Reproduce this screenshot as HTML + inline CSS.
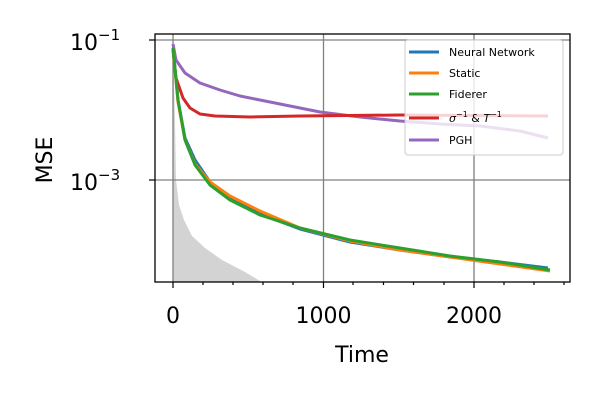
<!DOCTYPE html>
<html><head><style>body{margin:0;background:#fff}svg{display:block}text{font-family:"DejaVu Sans","Liberation Sans",sans-serif}</style></head><body>
<svg width="600" height="400" viewBox="0 0 600 400" xmlns="http://www.w3.org/2000/svg">
<defs><clipPath id="c"><rect x="155" y="34" width="415" height="248"/></clipPath></defs>
<g clip-path="url(#c)">
<path d="M173,45 L175,120 L176,180 L179,205 L184,220 L192,236 L205,248 L222,260 L245,272 L265,284 L173,284 Z" fill="#d3d3d3"/>
<g stroke="#808080" stroke-width="1.3">
<line x1="173" y1="34" x2="173" y2="282"/><line x1="323.5" y1="34" x2="323.5" y2="282"/><line x1="474" y1="34" x2="474" y2="282"/>
<line x1="155" y1="40" x2="570" y2="40"/><line x1="155" y1="180" x2="570" y2="180"/>
</g>
<g fill="none" stroke-width="3" stroke-linejoin="round">
<path stroke="#9467bd" d="M173,44 L176,60 L185,73 L200,83 L220,90 L240,96 L260,100 L280,104 L320,112 L360,117 L400,121 L440,124 L480,126 L520,131 L548,138"/>
<path stroke="#d62728" d="M173,50 L176,78 L183,98 L190,108 L200,114 L215,116 L250,117 L300,116 L400,115 L548,116"/>
<path stroke="#1f77b4" d="M173,48 L178,100 L185,138 L195,160 L210,182 L230,198 L260,214 L300,229 L350,242 L400,250 L450,257 L500,262 L548,268"/>
<path stroke="#ff7f0e" d="M173,48 L178,102 L185,140 L195,164 L210,182 L230,196 L260,211 L300,228 L350,241 L400,250 L450,257 L500,264 L550,271"/>
<path stroke="#2ca02c" d="M173,48 L178,100 L185,140 L195,165 L210,185 L230,200 L260,215 L300,228 L350,240 L400,248 L450,256 L500,262 L550,270"/>
</g>
</g>
<rect x="155" y="34" width="415" height="248" fill="none" stroke="#000" stroke-width="1.3"/>
<g stroke="#000" stroke-width="1.2">
<line x1="173" y1="282" x2="173" y2="288"/><line x1="323.5" y1="282" x2="323.5" y2="288"/><line x1="474" y1="282" x2="474" y2="288"/>
<line x1="203" y1="282" x2="203" y2="285"/><line x1="233" y1="282" x2="233" y2="285"/><line x1="263" y1="282" x2="263" y2="285"/><line x1="293" y1="282" x2="293" y2="285"/>
<line x1="353" y1="282" x2="353" y2="285"/><line x1="383.5" y1="282" x2="383.5" y2="285"/><line x1="413.5" y1="282" x2="413.5" y2="285"/><line x1="444" y1="282" x2="444" y2="285"/>
<line x1="504" y1="282" x2="504" y2="285"/><line x1="534" y1="282" x2="534" y2="285"/><line x1="564" y1="282" x2="564" y2="285"/>
<line x1="149" y1="40" x2="155" y2="40"/><line x1="149" y1="180" x2="155" y2="180"/>
</g>
<g font-size="22" fill="#000">
<text x="173" y="323" text-anchor="middle">0</text>
<text x="323.5" y="323" text-anchor="middle">1000</text>
<text x="474" y="323" text-anchor="middle">2000</text>
<text x="362" y="362" text-anchor="middle">Time</text>
<text x="70" y="50">10<tspan font-size="15" dy="-10">−1</tspan></text>
<text x="70" y="190">10<tspan font-size="15" dy="-10">−3</tspan></text>
<text transform="translate(52,160) rotate(-90)" text-anchor="middle">MSE</text>
</g>
<rect x="405" y="40" width="158" height="115" rx="3" fill="#fff" fill-opacity="0.8" stroke="#ccc" stroke-width="1"/>
<g stroke-width="3">
<line x1="409" y1="52" x2="439" y2="52" stroke="#1f77b4"/>
<line x1="409" y1="73" x2="439" y2="73" stroke="#ff7f0e"/>
<line x1="409" y1="94" x2="439" y2="94" stroke="#2ca02c"/>
<line x1="409" y1="118" x2="439" y2="118" stroke="#d62728"/>
<line x1="409" y1="140" x2="439" y2="140" stroke="#9467bd"/>
</g>
<g font-size="11" fill="#000">
<text x="449" y="56">Neural Network</text>
<text x="449" y="77">Static</text>
<text x="449" y="98">Fiderer</text>
<text x="449" y="122"><tspan font-style="italic">σ</tspan><tspan font-size="8" dy="-5">−1</tspan><tspan dy="5"> &amp; </tspan><tspan font-style="italic">T</tspan><tspan font-size="8" dy="-5">−1</tspan></text>
<text x="449" y="144">PGH</text>
</g>
</svg>
</body></html>
